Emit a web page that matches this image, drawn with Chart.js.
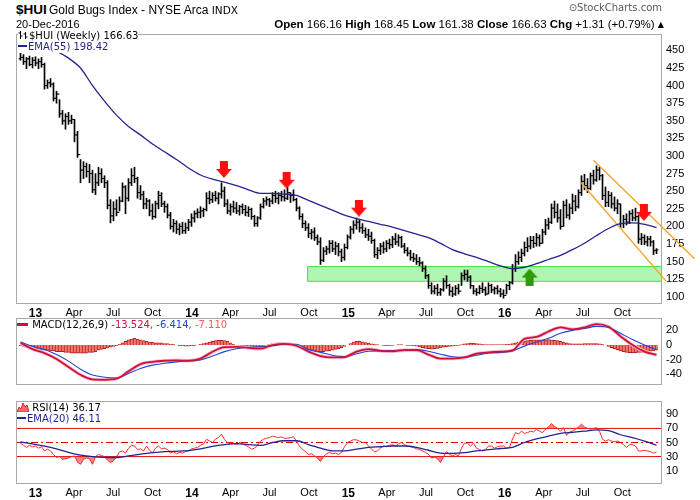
<!DOCTYPE html>
<html>
<head>
<meta charset="utf-8">
<script src="https://cdn.jsdelivr.net/npm/chart.js@4.4.1/dist/chart.umd.min.js"></script>
<style>
  body { margin: 0; background: #fff; }
  #wrap { position: relative; width: 700px; height: 500px; overflow: hidden; font-family: "Liberation Sans", Arial, sans-serif; color: #000; }
  canvas { position: absolute; left: 0; }
  .txt { position: absolute; white-space: nowrap; line-height: 14px; }
  .leg { position: absolute; white-space: nowrap; font-family: "DejaVu Sans", sans-serif; font-size: 10px; line-height: 12px; background: #fff; }
  .dash { display: inline-block; width: 9px; height: 2px; vertical-align: 3px; margin-right: 1px; }
</style>
</head>
<body>
<div id="wrap">
  <canvas id="priceChart" width="700" height="295" style="top:25px"></canvas>
  <canvas id="macdChart" width="700" height="83" style="top:318px"></canvas>
  <canvas id="rsiChart" width="700" height="99" style="top:401px"></canvas>

  <div class="txt" style="left:16px;top:3px;font-size:13.5px;font-weight:bold;">$HUI</div>
  <div class="txt" style="left:49px;top:3px;font-size:12px;">Gold Bugs Index - NYSE Arca <span style="font-family:'DejaVu Sans';font-size:10.5px;">INDX</span></div>
  <div class="txt" style="left:16px;top:17px;font-size:11px;">20-Dec-2016</div>
  <div class="txt" id="ohlc" style="right:36px;top:17px;font-size:11.5px;"></div>
  <div class="txt" style="right:38px;top:1px;font-size:10px;color:#555;font-family:'DejaVu Sans';">&#8857;StockCharts.com</div>

  <div class="leg" id="legPrice" style="left:18px;top:30px;"></div>
  <div class="leg" id="legEma" style="left:18px;top:41px;color:#232393;"></div>
  <div class="leg" id="legMacd" style="left:17px;top:319px;background:transparent;"></div>
  <div class="leg" id="legRsi" style="left:17px;top:402px;background:transparent;"></div>
  <div class="leg" id="legRsiEma" style="left:17px;top:413px;color:#232393;background:transparent;"></div>
</div>

<script>
// weekly bars, first week 27-Nov-2012, last week 20-Dec-2016
const firstWeekDate = '2012-11-27';
const firstOpen = 438;
const lastOpen = 166.16;

const highs = [
  446, 444, 440, 442, 440, 441, 438, 440, 432, 408, 410, 404, 392, 380, 365, 360, 362, 358, 352, 335,
  295, 292, 290, 288, 280, 275, 284, 282, 272, 265, 238, 235, 238, 242, 262, 258, 268, 282, 284, 270,
  258, 250, 240, 238, 232, 236, 250, 248, 236, 232, 220, 210, 208, 204, 206, 205, 210, 218, 222, 225,
  228, 226, 248, 250, 248, 250, 248, 262, 256, 238, 232, 236, 234, 230, 232, 230, 228, 226, 216, 214,
  232, 240, 242, 240, 248, 250, 248, 250, 252, 256, 248, 252, 240, 228, 218, 208, 204, 196, 198, 188,
  184, 170, 172, 180, 180, 178, 176, 168, 175, 188, 200, 208, 212, 210, 204, 198, 196, 192, 182, 170,
  176, 178, 180, 182, 186, 190, 188, 186, 176, 170, 166, 162, 160, 156, 150, 144, 132, 120, 116, 118,
  112, 126, 130, 118, 114, 116, 118, 134, 138, 138, 130, 116, 112, 116, 120, 114, 120, 118, 114, 116,
  112, 110, 118, 122, 146, 160, 164, 168, 178, 184, 186, 186, 190, 188, 196, 210, 212, 232, 236, 232,
  224, 236, 238, 232, 246, 244, 252, 272, 274, 268, 276, 280, 286, 284, 274, 256, 250, 248, 242, 238,
  232, 216, 218, 222, 224, 226, 216, 190, 188, 186, 186, 180, 168.45
];
const lows = [
  436, 430, 424, 428, 425, 428, 424, 426, 395, 396, 398, 378, 375, 355, 345, 338, 345, 346, 320, 298,
  262, 268, 270, 262, 248, 245, 258, 262, 255, 225, 205, 208, 215, 222, 235, 218, 236, 258, 262, 240,
  238, 225, 225, 215, 210, 212, 225, 228, 220, 212, 196, 192, 190, 188, 190, 190, 194, 200, 206, 212,
  212, 214, 222, 232, 234, 236, 232, 240, 228, 218, 216, 220, 218, 216, 218, 215, 214, 210, 200, 200,
  210, 226, 230, 228, 232, 234, 232, 236, 236, 238, 234, 236, 222, 210, 198, 194, 184, 182, 180, 174,
  146, 150, 160, 162, 164, 160, 158, 150, 152, 168, 182, 190, 196, 192, 190, 184, 180, 176, 156, 154,
  160, 162, 164, 168, 170, 174, 172, 170, 162, 158, 152, 150, 146, 144, 136, 126, 112, 104, 104, 102,
  102, 108, 112, 102, 100, 102, 104, 116, 124, 122, 112, 104, 102, 104, 106, 102, 104, 106, 104, 104,
  100, 98, 104, 110, 118, 136, 146, 150, 158, 164, 168, 170, 172, 172, 176, 188, 196, 204, 212, 206,
  196, 200, 212, 210, 218, 222, 226, 244, 252, 248, 252, 260, 264, 266, 238, 228, 228, 226, 222, 218,
  198, 198, 202, 204, 208, 208, 176, 174, 174, 172, 172, 160, 161.38
];
const closes = [
  440, 434, 438, 430, 436, 432, 434, 430, 400, 404, 402, 382, 388, 360, 350, 356, 350, 352, 330, 302,
  280, 285, 278, 275, 252, 262, 275, 268, 262, 230, 215, 225, 220, 236, 256, 240, 262, 272, 268, 248,
  245, 232, 236, 222, 214, 232, 244, 232, 228, 216, 200, 204, 196, 200, 194, 198, 206, 212, 218, 220,
  222, 224, 240, 238, 244, 240, 246, 250, 232, 222, 228, 226, 222, 228, 224, 220, 224, 214, 204, 212,
  228, 236, 238, 236, 244, 240, 244, 242, 240, 248, 244, 238, 226, 214, 204, 198, 190, 192, 184, 178,
  152, 165, 168, 176, 168, 172, 164, 156, 170, 185, 196, 202, 206, 198, 194, 188, 186, 180, 160, 166,
  172, 168, 176, 174, 182, 178, 184, 172, 166, 162, 156, 154, 150, 148, 140, 130, 116, 108, 112, 106,
  110, 122, 116, 108, 104, 112, 108, 130, 132, 128, 116, 108, 106, 112, 110, 104, 116, 110, 112, 108,
  104, 102, 116, 120, 140, 150, 156, 162, 170, 172, 180, 176, 184, 176, 192, 202, 206, 226, 220, 212,
  200, 230, 216, 226, 236, 228, 248, 264, 258, 254, 272, 266, 280, 272, 244, 234, 244, 232, 226, 232,
  204, 210, 206, 218, 212, 214, 182, 184, 178, 182, 178, 165.32, 166.63
];

// smooth indicator lines read every 4 weeks
const sampleWeeks = [
  0, 4, 8, 12, 16, 20, 24, 28, 32, 36, 40, 44, 48, 52, 56, 60, 64, 68, 72, 76,
  80, 84, 88, 92, 96, 100, 104, 108, 112, 116, 120, 124, 128, 132, 136, 140, 144, 148, 152, 156,
  160, 164, 168, 172, 176, 180, 184, 188, 192, 196, 200, 204, 208, 212
];
const ema55 = [
  472, 465, 457, 449, 439, 425, 400, 378, 358, 342, 330, 317, 306, 295, 283, 273, 267, 263, 258, 252,
  247, 247, 246, 244, 237, 230, 223, 216, 211, 207, 203, 199, 194, 189, 184, 176, 167, 161, 156, 150,
  144, 140, 142, 147, 153, 159, 167, 176, 187, 197, 204, 205, 203, 198.42
];
const macdLine = [
  2.7, -5.5, -11, -19, -30, -40.7, -47, -47.5, -46, -36, -26, -23, -21.5, -21, -21.5, -18.5, -9.2, -3, -2.5, -4,
  -5, 0, 1.5, -1, -9, -15, -17, -16.5, -9, -5.5, -8, -8.5, -7, -7, -13, -18.5, -18.5, -17, -11.8, -10,
  -9, -7.4, 8.5, 11, 18.5, 24, 21.5, 24, 28.5, 25, 12, 0, -9, -13.524
];
const macdSignal = [
  4, -1.8, -6, -13, -22, -33, -41, -44, -45, -39, -32, -27.5, -25, -23, -21.5, -20.4, -15, -9, -5, -3,
  -2.5, -1, 1, 1, -6.5, -10, -14, -16, -12, -8.5, -8, -7.6, -7, -6.3, -8.5, -12.5, -16, -16.8, -14, -11,
  -10, -8, -1.5, 4, 9.2, 16, 20, 22.5, 25.5, 24, 16, 7.4, 0, -6.414
];
const rsiEma20 = [
  50.7, 48, 45, 41, 36, 32, 30, 29, 28.7, 31, 33.5, 35.5, 37, 37.5, 38.5, 41, 44.5, 47, 48.5, 47,
  46, 50, 52.5, 52.5, 47, 42, 38, 38, 40.5, 43, 44, 45, 45, 43, 39, 35, 34.5, 35.5, 38, 40,
  41.5, 43, 50, 55, 59, 63, 64.5, 66, 68, 67, 61, 57, 52, 46.11
];

// weekly indicator values
const macdHist = [
  -1, -2, -3, -4, -5, -6, -6, -7, -7, -7, -8, -8, -9, -9, -9, -10, -10, -11, -11, -11,
  -11, -11, -11, -10, -10, -9, -7, -6, -5, -4, -3, -2, -1, 1, 3, 5, 7, 8, 9, 8,
  7, 6, 5, 4, 4, 3, 3, 3, 2, 2, 1, 1, 0, -1, -1, -1.5, -1.5, -1, -1, 0,
  1, 2, 3, 4, 5, 6, 6.5, 6.5, 6, 5, 3, 1, 0, -1, -1, -1.5, -1.5, -2, -3, -3,
  -2.5, -1.5, -0.5, 1, 2, 2.5, 3, 3, 2.5, 2, 1.5, 1, 0, -1.5, -3, -4.5, -6, -7, -8, -9,
  -9, -9, -8.5, -8, -7, -6, -5, -3.5, -2, 0, 2, 4, 5, 5, 4.5, 3.5, 2.5, 1.5, 1, 0.5,
  0, -0.5, -1, -1, -0.5, 0, 0.5, 0.5, 0, -0.5, -0.5, -1, -1.5, -2.5, -3.5, -4.5, -5, -5.5, -5, -4.5,
  -4, -3, -2.5, -2, -1.5, -1, -0.5, 0.5, 1.5, 2, 2.5, 2.5, 2, 1.5, 1, 0.5, 0.5, 0.5, 0.5, 0.5,
  0.5, 0.5, 1, 1, 2, 3, 4, 5, 5.5, 6, 6.5, 7, 7, 7, 7, 7, 7.5, 7, 6.5, 6,
  5, 4, 3, 2, 1.5, 1.5, 1.5, 1.5, 2, 2, 2, 2, 2, 1.5, 1, 0, -2, -3.5, -5, -6.5,
  -8, -9, -10, -10.5, -10.5, -10.5, -10, -10, -9.5, -9, -8.5, -8, -7.11
];
const rsi14 = [
  49, 46, 43, 46, 44, 45, 42, 44, 38, 40.5, 38, 33, 28.7, 30, 26, 27, 28, 30, 31, 22,
  19, 26, 28, 27, 19, 30, 33, 31.5, 30, 25, 21.6, 24, 30, 36.7, 38, 35, 42, 46, 45, 40,
  41, 38, 45, 39, 35, 42, 45, 41, 42, 40, 35, 37, 34, 36, 35, 37, 38, 41, 42, 43,
  46, 48, 54.7, 52, 50, 55, 57, 61.8, 54, 50, 48, 49, 47, 50, 48, 46, 44, 40.5, 42, 46,
  52, 54.7, 56, 57, 59, 58, 57, 58, 56, 56, 57, 58, 52, 45, 40, 37, 33, 34, 31, 28,
  23, 30, 34, 36, 34, 35, 33, 36, 44, 50, 52, 54, 53.7, 52, 50, 50, 45, 40.5, 37, 38,
  42, 45, 44, 46, 47, 45, 48, 50, 47, 45, 44, 43, 41, 40, 38, 36, 33, 28, 29, 27,
  21.6, 30, 37, 33, 31, 33, 31, 42, 49, 49, 45, 49, 42, 40, 38, 40, 45, 45, 42, 44,
  45, 45, 42, 43, 55, 64, 62, 66, 63, 64, 66, 65, 69, 66, 64, 69, 72, 77, 73, 70,
  66, 71, 60, 65, 66, 69, 72, 76, 72, 70, 69, 70, 71, 66, 54.7, 52, 54, 52, 51, 52,
  50, 47, 43, 47, 47, 45, 38, 38, 39, 38, 37, 35, 36.17
];

// axes
const tickLabels = ['13', 'Apr', 'Jul', 'Oct', '14', 'Apr', 'Jul', 'Oct', '15', 'Apr', 'Jul', 'Oct', '16', 'Apr', 'Jul', 'Oct'];
const tickDates = [
  '2013-01-01', '2013-04-01', '2013-07-01', '2013-10-01', '2014-01-01', '2014-04-01', '2014-07-01', '2014-10-01',
  '2015-01-01', '2015-04-01', '2015-07-01', '2015-10-01', '2016-01-01', '2016-04-01', '2016-07-01', '2016-10-01'
];
const priceTicks = [100, 125, 150, 175, 200, 225, 250, 275, 300, 325, 350, 375, 400, 425, 450];
const macdTicks = [-40, -20, 0, 20];
const rsiTicks = [10, 30, 50, 70, 90];
const rsiLevels = [70, 50, 30];

// annotations drawn on the price panel
const zoneWeeks = [95.7, 213.8];
const zoneRange = [122, 143];
const channelUpper = [[191, 294], [224.7, 154]];
const channelLower = [[186.9, 262], [215.2, 122.3]];
const sellArrowWeeks = [67.8, 88.7, 112.8, 207.8];
const sellArrowLevels = [281, 265.5, 226, 220];
const buyArrowWeeks = [169.7];
const buyArrowLevels = [128];

const FONT = '"Liberation Sans", Arial, sans-serif';
Chart.defaults.font.family = FONT;
Chart.defaults.font.size = 11;
Chart.defaults.color = '#000';

// 3 px per week, bar centres on half pixels
const xMin = -1.5, xMax = 213.833;
const weekMs = 7 * 24 * 3600 * 1000;
const t0 = Date.parse(firstWeekDate + 'T00:00:00Z');
const tickWeeks = tickDates.map(d => (Date.parse(d + 'T00:00:00Z') - t0) / weekMs);
const weeks = closes.map((c, i) => i);
const last = closes.length - 1;
const opens = closes.map((c, i) => i === 0 ? firstOpen : (i === last ? lastOpen : closes[i - 1]));

const pts = (xs, ys) => xs.map((x, k) => ({ x: x, y: ys[k] }));

function arrowImage(color, down) {
  const c = document.createElement('canvas');
  c.width = 16; c.height = 17;
  const g = c.getContext('2d');
  g.fillStyle = color;
  g.beginPath();
  if (down) {
    g.moveTo(4, 0); g.lineTo(12, 0); g.lineTo(12, 8); g.lineTo(16, 8); g.lineTo(8, 17); g.lineTo(0, 8); g.lineTo(4, 8);
  } else {
    g.moveTo(4, 17); g.lineTo(12, 17); g.lineTo(12, 9); g.lineTo(16, 9); g.lineTo(8, 0); g.lineTo(0, 9); g.lineTo(4, 9);
  }
  g.closePath();
  g.fill();
  return c;
}

const framePlugin = {
  id: 'frame',
  afterDraw(chart) {
    const { ctx, chartArea: a } = chart;
    ctx.save();
    ctx.strokeStyle = '#a9a9a9';
    ctx.lineWidth = 1;
    ctx.strokeRect(Math.round(a.left) + 0.5, Math.round(a.top) + 0.5, Math.round(a.right - a.left) - 1, Math.round(a.bottom - a.top) - 1);
    ctx.restore();
  }
};

function xAxis(show) {
  return {
    type: 'linear', min: xMin, max: xMax, offset: false, display: show,
    grid: { display: false, drawTicks: false }, border: { display: false },
    afterBuildTicks: s => { s.ticks = tickWeeks.map(v => ({ value: v })); },
    afterFit: s => { s.height = 16; s.paddingLeft = 0; s.paddingRight = 0; },
    ticks: {
      autoSkip: false, maxRotation: 0, minRotation: 0, padding: 2,
      callback: (v, i) => tickLabels[i],
      font: c => ({ family: FONT, size: /^\d+$/.test(tickLabels[c.index]) ? 12 : 11, weight: /^\d+$/.test(tickLabels[c.index]) ? 'bold' : 'normal' })
    }
  };
}

function yAxis(min, max, ticks) {
  return {
    type: 'linear', position: 'right', min: min, max: max,
    grid: { display: false, drawTicks: false }, border: { display: false },
    afterBuildTicks: s => { s.ticks = ticks.map(v => ({ value: v })); },
    afterFit: s => { s.width = 38; s.paddingTop = 0; s.paddingBottom = 0; },
    ticks: { padding: 4, callback: v => String(v) }
  };
}

function baseOptions(scales, top) {
  return {
    responsive: false, animation: false, events: [],
    layout: { padding: { left: 16, top: top, right: 0, bottom: 0 } },
    plugins: { legend: { display: false }, tooltip: { enabled: false } },
    scales: scales
  };
}

// price panel
new Chart(document.getElementById('priceChart'), {
  type: 'bar',
  data: {
    datasets: [
      {
        type: 'line', data: pts(sellArrowWeeks, sellArrowLevels), showLine: false,
        pointStyle: arrowImage('#ff1010', true), pointRadius: 8, order: 0
      },
      {
        type: 'line', data: pts(buyArrowWeeks, buyArrowLevels), showLine: false,
        pointStyle: arrowImage('#2f9a08', false), pointRadius: 8, order: 0
      },
      {
        type: 'line', data: pts(sampleWeeks, ema55), borderColor: '#232393', borderWidth: 1.3,
        pointRadius: 0, cubicInterpolationMode: 'monotone', order: 1
      },
      {
        type: 'line', data: channelUpper.map(p => ({ x: p[0], y: p[1] })), borderColor: '#f5a630',
        borderWidth: 1.5, pointRadius: 0, clip: false, order: 2
      },
      {
        type: 'line', data: channelLower.map(p => ({ x: p[0], y: p[1] })), borderColor: '#f5a630',
        borderWidth: 1.5, pointRadius: 0, clip: false, order: 2
      },
      {
        type: 'line', data: weeks.map(i => ({ x: i - 0.34, y: opens[i] })), showLine: false,
        pointStyle: 'line', pointRadius: 0.9, pointBorderWidth: 1, borderColor: '#000', pointBorderColor: '#000', order: 3
      },
      {
        type: 'line', data: weeks.map(i => ({ x: i + 0.34, y: closes[i] })), showLine: false,
        pointStyle: 'line', pointRadius: 0.9, pointBorderWidth: 1, borderColor: '#000', pointBorderColor: '#000', order: 3
      },
      {
        type: 'bar', data: weeks.map(i => ({ x: i, y: [lows[i], highs[i]] })),
        backgroundColor: '#000', borderWidth: 0, barThickness: 1, grouped: false, order: 4
      },
      {
        type: 'line',
        data: [
          { x: zoneWeeks[0], y: zoneRange[0] }, { x: zoneWeeks[0], y: zoneRange[1] },
          { x: zoneWeeks[1], y: zoneRange[1] }, { x: zoneWeeks[1], y: zoneRange[0] },
          { x: zoneWeeks[0], y: zoneRange[0] }
        ],
        borderColor: '#48de48', borderWidth: 1, backgroundColor: '#b0f5b0', fill: 'shape', pointRadius: 0, order: 5
      }
    ]
  },
  options: baseOptions({ x: xAxis(true), y: yAxis(89.8, 473.3, priceTicks) }, 4),
  plugins: [framePlugin]
});

// MACD panel
new Chart(document.getElementById('macdChart'), {
  type: 'bar',
  data: {
    datasets: [
      {
        type: 'line', data: pts(sampleWeeks, macdLine), borderColor: '#d0103c', borderWidth: 1.8,
        pointRadius: 0, cubicInterpolationMode: 'monotone', order: 0
      },
      {
        type: 'line', data: pts(sampleWeeks, macdSignal), borderColor: '#2244d8', borderWidth: 1.1,
        pointRadius: 0, cubicInterpolationMode: 'monotone', order: 1
      },
      {
        type: 'line', data: pts(sampleWeeks, macdLine), borderColor: '#f7c2cc', borderWidth: 3.6,
        pointRadius: 0, cubicInterpolationMode: 'monotone', order: 2
      },
      {
        type: 'bar', data: pts(weeks, macdHist), backgroundColor: '#f07a6c', borderColor: '#b02020',
        borderWidth: { left: 1, right: 0, top: 1, bottom: 1 }, borderSkipped: 'start',
        barThickness: 3, grouped: false, order: 3
      }
    ]
  },
  options: baseOptions({ x: xAxis(false), y: yAxis(-54.6, 36.9, macdTicks) }, 0),
  plugins: [framePlugin]
});

// RSI panel
const levelSets = rsiLevels.map(v => ({
  type: 'line', data: [{ x: xMin, y: v }, { x: xMax, y: v }], borderColor: '#e00000', borderWidth: 1,
  borderDash: v === 50 ? [7, 3, 2, 3] : [], pointRadius: 0, order: 3
}));
new Chart(document.getElementById('rsiChart'), {
  type: 'line',
  data: {
    datasets: [
      {
        data: pts(sampleWeeks, rsiEma20), borderColor: '#232393', borderWidth: 1.3,
        pointRadius: 0, cubicInterpolationMode: 'monotone', order: 0
      },
      {
        data: pts(weeks, rsi14), borderColor: '#ff2a2a', borderWidth: 1, pointRadius: 0, order: 1,
        fill: { target: { value: 70 }, above: 'rgba(238,95,95,0.75)', below: 'rgba(0,0,0,0)' }
      },
      {
        data: pts(weeks, rsi14), borderColor: 'rgba(0,0,0,0)', borderWidth: 0, pointRadius: 0, order: 2,
        fill: { target: { value: 30 }, above: 'rgba(0,0,0,0)', below: 'rgba(238,95,95,0.75)' }
      }
    ].concat(levelSets)
  },
  options: baseOptions({ x: xAxis(true), y: yAxis(-8.9, 108.9, rsiTicks) }, 0),
  plugins: [framePlugin]
});

// header and legends from the data
const chg = closes[last] - closes[last - 1];
const sign = chg >= 0 ? '+' : '';
document.getElementById('ohlc').innerHTML =
  '<b>Open</b> ' + lastOpen.toFixed(2) + ' <b>High</b> ' + highs[last].toFixed(2) +
  ' <b>Low</b> ' + lows[last].toFixed(2) + ' <b>Close</b> ' + closes[last].toFixed(2) +
  ' <b>Chg</b> ' + sign + chg.toFixed(2) + ' (' + sign + (chg / closes[last - 1] * 100).toFixed(2) + '%) ' +
  '<span style="font-family:\'DejaVu Sans\';font-size:8px;vertical-align:1px;">&#9650;</span>';

document.getElementById('legPrice').innerHTML =
  '<svg width="11" height="10" style="vertical-align:-1px"><path d="M2.5 1v8M0.5 3h2M2.5 6h2M7.5 2v7M5.5 4h2M7.5 7h2" stroke="#000" stroke-width="1" fill="none"/></svg>' +
  '$HUI (Weekly) ' + closes[last].toFixed(2);
document.getElementById('legEma').innerHTML =
  '<span class="dash" style="background:#232393"></span>EMA(55) ' + ema55[ema55.length - 1].toFixed(2);
const lm = macdLine.length - 1;
document.getElementById('legMacd').innerHTML =
  '<span class="dash" style="background:#d0103c;height:3px;width:11px;vertical-align:2px;"></span> MACD(12,26,9) ' +
  '<span style="color:#d0103c">' + macdLine[lm].toFixed(3) + ',</span> ' +
  '<span style="color:#2244d8">' + macdSignal[lm].toFixed(3) + ',</span> ' +
  '<span style="color:#f05a5a">' + macdHist[macdHist.length - 1].toFixed(3) + '</span>';
document.getElementById('legRsi').innerHTML =
  '<svg width="12" height="10" style="vertical-align:-1px"><path d="M0 10L2 5L4 7L6 1L8 5L10 3L12 10Z" fill="#f07070" stroke="#e02020" stroke-width="1"/></svg> ' +
  'RSI(14) ' + rsi14[last].toFixed(2);
document.getElementById('legRsiEma').innerHTML =
  '<span class="dash" style="background:#232393"></span>EMA(20) ' + rsiEma20[rsiEma20.length - 1].toFixed(2);
</script>
</body>
</html>
